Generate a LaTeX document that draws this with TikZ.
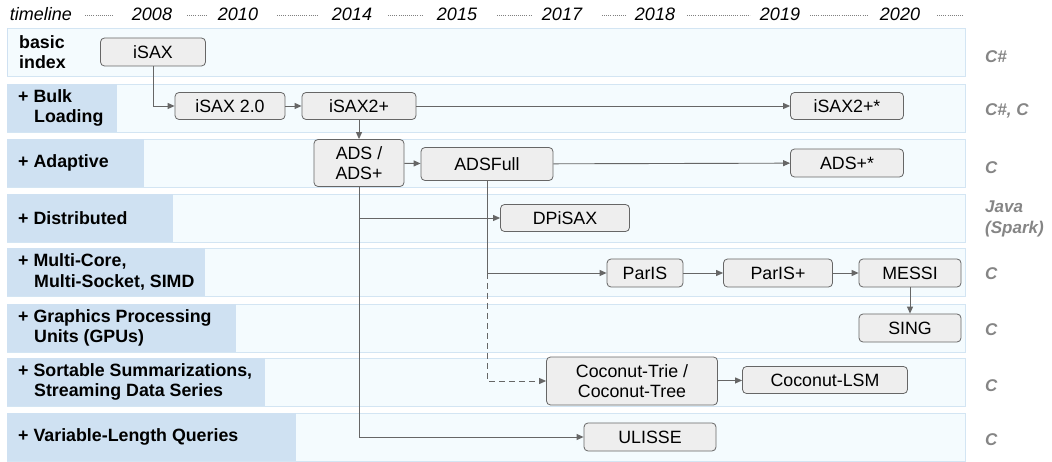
\documentclass[tikz,border=0pt]{standalone}
\usepackage{fontspec}
\setmainfont{Liberation Sans}
\usetikzlibrary{arrows.meta}
\definecolor{band}{HTML}{F4FBFE}
\definecolor{bandline}{HTML}{D3E5F3}
\definecolor{lab}{HTML}{CFE1F2}
\definecolor{boxfill}{HTML}{EEEEEE}
\definecolor{linec}{HTML}{666666}
\definecolor{langc}{HTML}{858585}
\begin{document}
\begin{tikzpicture}[x=1pt,y=-1pt,
  bandbox/.style={draw=bandline, fill=band, line width=0.8pt, minimum width=958pt, minimum height=48pt, anchor=north west, inner sep=0pt},
  rowlab/.style={anchor=west, align=left, font=\fontsize{17.8}{20.5}\selectfont\bfseries, inner sep=0pt},
  stage/.style={draw=linec, fill=boxfill, rounded corners=4pt, line width=0.8pt, font=\fontsize{17.8}{20.5}\selectfont, align=center, inner sep=0pt},
  conn/.style={draw=linec, line width=0.9pt, -{Triangle[length=7pt,width=6pt]}},
  dconn/.style={conn, dash pattern=on 6pt off 4pt},
  lang/.style={anchor=west, align=left, text=langc, font=\fontsize{17}{21}\selectfont\bfseries\itshape, inner sep=0pt},
  yr/.style={font=\fontsize{18}{20}\selectfont\itshape, inner sep=0pt},
  tdots/.style={draw=gray, line width=0.7pt, dash pattern=on 0.7pt off 1.4pt}
]
\useasboundingbox (0,0) rectangle (1052,462);

% timeline
\node[yr] (tl) at (41,14) {timeline};
\node[yr] (y08) at (152,14) {2008};
\node[yr] (y10) at (238,14) {2010};
\node[yr] (y14) at (352,14) {2014};
\node[yr] (y15) at (457,14) {2015};
\node[yr] (y17) at (562,14) {2017};
\node[yr] (y18) at (655,14) {2018};
\node[yr] (y19) at (780,14) {2019};
\node[yr] (y20) at (900,14) {2020};
\foreach \a/\b in {85/113,187/207,277/317,388/422,497/532,602/627,687/750,810/867,937/963}
  \draw[tdots] (\a,15) -- (\b,15);

% bands
\foreach \t/\w [count=\i] in {28/7,84/117,139/144,194/173,248/205,304/236,358/265,413/296}{
  \node[bandbox] (row\i) at (7,\t) {};
  \fill[lab] (7.4,\t+0.4) rectangle (\w,\t+47.6);
}
\node[rowlab] (l1) at (19,52) {basic\\index};
\node[rowlab] (l2) at (18,108) {+ Bulk\\\hspace*{16pt}Loading};
\node[rowlab] (l3) at (18,163) {+ Adaptive};
\node[rowlab] (l4) at (18,218) {+ Distributed};
\node[rowlab] (l5) at (18,272) {+ Multi-Core,\\\hspace*{16pt}Multi-Socket, SIMD};
\node[rowlab] (l6) at (18,328) {+ Graphics Processing\\\hspace*{16pt}Units (GPUs)};
\node[rowlab] (l7) at (18,382) {+ Sortable Summarizations,\\\hspace*{16pt}Streaming Data Series};
\node[rowlab] (l8) at (18,437) {+ Variable-Length Queries};

% languages
\node[lang] (c1) at (985,57) {C\#};
\node[lang] (c2) at (985,111) {C\#, C};
\node[lang] (c3) at (985,168) {C};
\node[lang] (c4) at (985,219) {Java\\(Spark)};
\node[lang] (c5) at (985,274) {C};
\node[lang] (c6) at (985,330) {C};
\node[lang] (c7) at (985,386) {C};
\node[lang] (c8) at (985,440) {C};

% stages
\node[stage, minimum width=105pt, minimum height=28pt] (isax) at (153,52) {iSAX};
\node[stage, minimum width=110pt, minimum height=27pt] (isaxtwo) at (230,106) {iSAX 2.0};
\node[stage, minimum width=114pt, minimum height=27pt] (isaxtp) at (359,106) {iSAX2+};
\node[stage, minimum width=113pt, minimum height=27pt] (isaxtps) at (847,106) {iSAX2+*};
\node[stage, minimum width=90pt, minimum height=47pt] (ads) at (359,163) {ADS /\\ADS+};
\node[stage, minimum width=132pt, minimum height=33pt] (adsfull) at (487,164) {ADSFull};
\node[stage, minimum width=113pt, minimum height=28pt] (adsps) at (847,163) {ADS+*};
\node[stage, minimum width=129pt, minimum height=27pt] (dpisax) at (565,218) {DPiSAX};
\node[stage, minimum width=76pt, minimum height=28pt] (paris) at (645,273) {ParIS};
\node[stage, minimum width=109pt, minimum height=28pt] (parisp) at (778,273) {ParIS+};
\node[stage, minimum width=102pt, minimum height=28pt] (messi) at (910,273) {MESSI};
\node[stage, minimum width=102pt, minimum height=28pt] (sing) at (910,328) {SING};
\node[stage, minimum width=171pt, minimum height=48pt] (cotrie) at (632,381) {Coconut-Trie /\\Coconut-Tree};
\node[stage, minimum width=165pt, minimum height=27pt] (colsm) at (825,380) {Coconut-LSM};
\node[stage, minimum width=132pt, minimum height=28pt] (ulisse) at (650,437) {ULISSE};

% connectors
\draw[conn] (isax.south) |- (isaxtwo.west);
\draw[conn] (isaxtwo) -- (isaxtp);
\draw[conn] (isaxtp) -- (isaxtps);
\draw[conn] (isaxtp) -- (ads);
\draw[conn] (ads) -- (adsfull);
\draw[conn] (adsfull) -- (adsps);
\draw[conn] (ads.south) |- (ulisse.west);
\draw[conn] (ads.south |- dpisax.west) -- (dpisax.west);
\draw[conn] (adsfull.south) |- (paris.west);
\draw[dconn] (adsfull.south |- paris.west) |- (cotrie.west);
\draw[conn] (paris) -- (parisp);
\draw[conn] (parisp) -- (messi);
\draw[conn] (messi) -- (sing);
\draw[conn] (cotrie) -- (colsm);
\end{tikzpicture}
\end{document}
